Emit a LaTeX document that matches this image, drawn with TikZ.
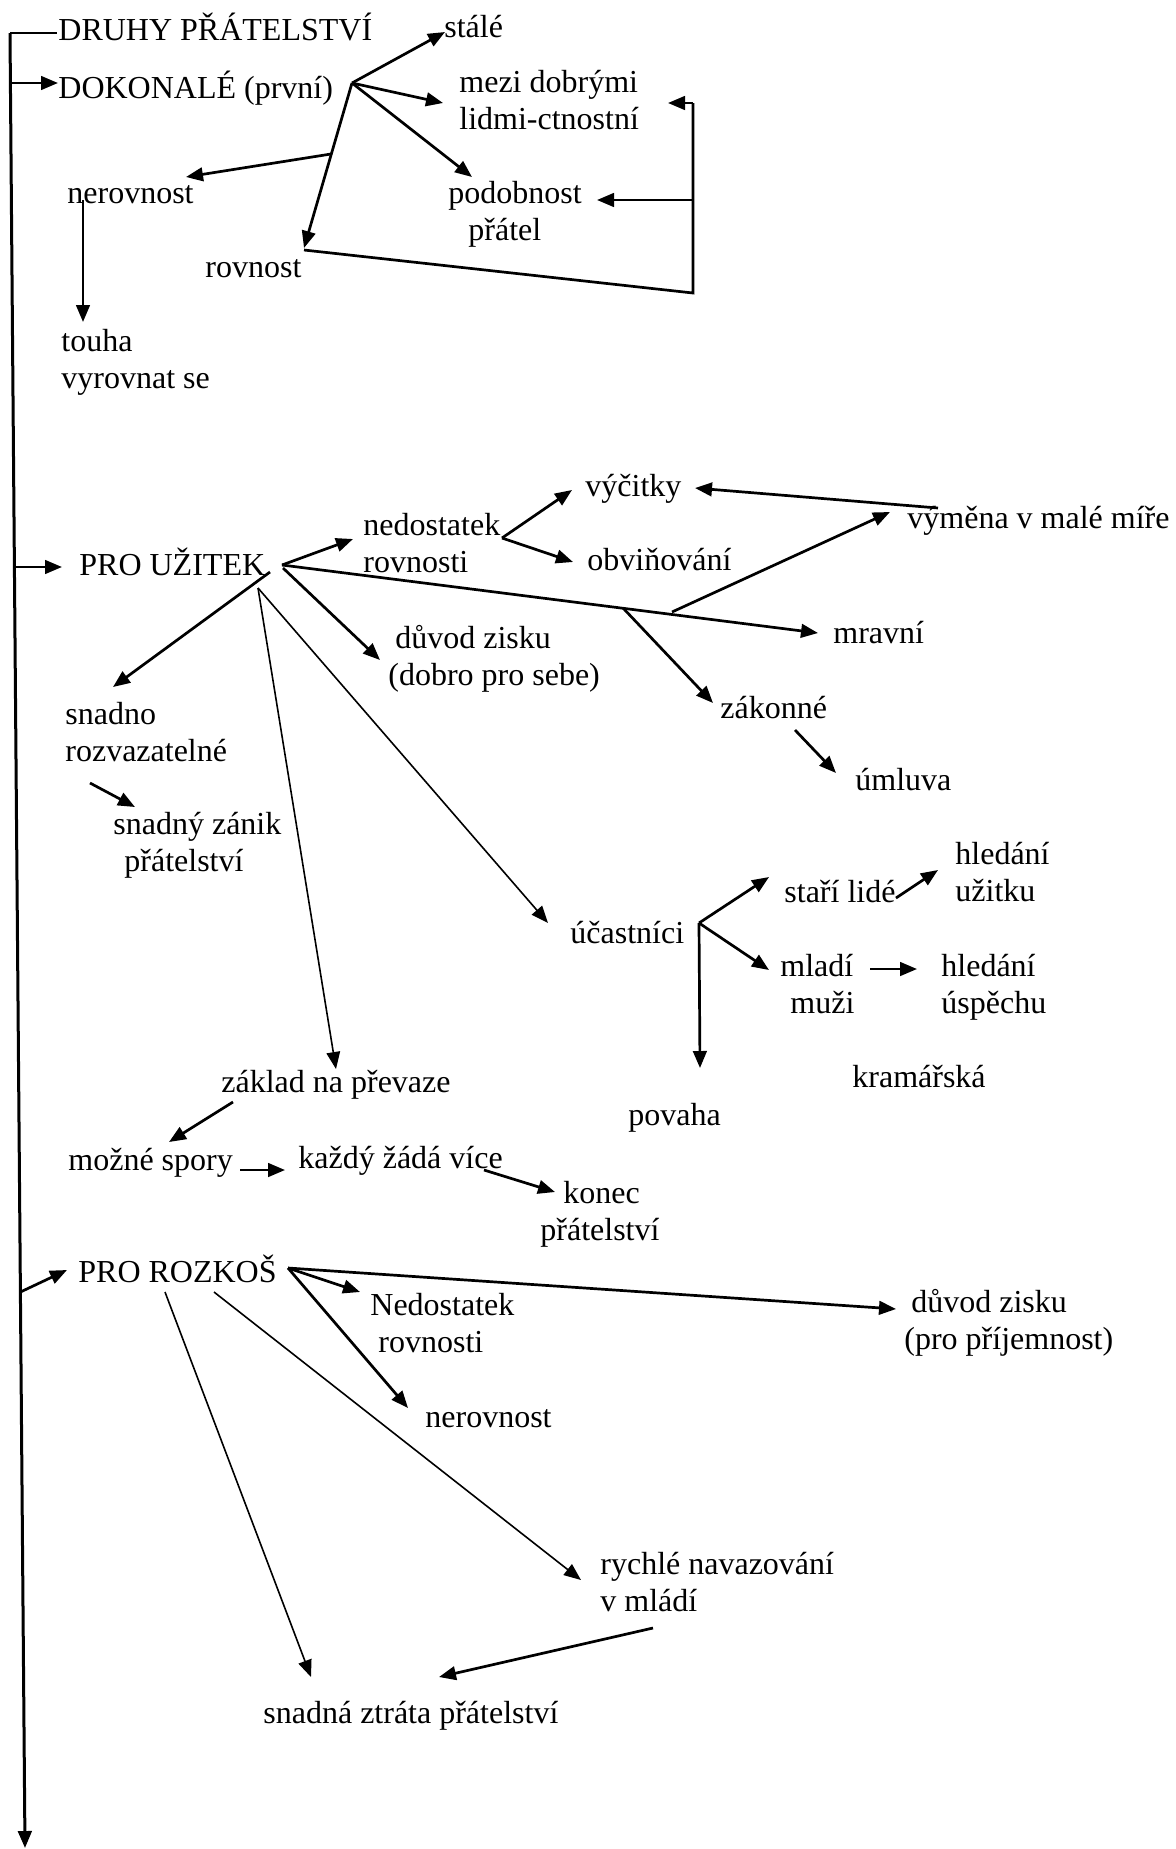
\documentclass[tikz,border=0pt]{standalone}
\usepackage{fontspec}
\setmainfont{Liberation Serif}
\usetikzlibrary{arrows.meta}
\begin{document}
\begin{tikzpicture}[x=0.5pt,y=-0.5pt,
  lbl/.style={inner sep=0pt, anchor=base west, font=\fontsize{16pt}{18.5pt}\selectfont, align=left},
  con/.style={line width=1.35pt, -{Triangle[length=8.5pt,width=6.8pt]}},
  conthin/.style={line width=0.8pt, -{Triangle[length=8.5pt,width=6.8pt]}},
  plainline/.style={line width=1.35pt},
  trunkline/.style={line width=1.5pt, -{Triangle[length=8.5pt,width=6.8pt]}}]
\useasboundingbox (0,0) rectangle (1176,1849);

% ---------- texts (y = baseline of the last line) ----------
\node[lbl] (druhy) at (58,40) {DRUHY PŘÁTELSTVÍ};
\node[lbl] (dokon) at (58,98) {DOKONALÉ (první)};
\node[lbl] (stale) at (444,37) {stálé};
\node[lbl] (mezi) at (459,129) {mezi dobrými\\lidmi-ctnostní};
\node[lbl] (podob) at (448,240) {podobnost\\\hspace*{10pt}přátel};
\node[lbl] (nerov1) at (67,203) {nerovnost};
\node[lbl] (rovn) at (205,277) {rovnost};
\node[lbl] (touha) at (61,388) {touha\\vyrovnat se};
\node[lbl] (uzitek) at (79,575) {PRO UŽITEK};
\node[lbl] (nedost1) at (363,572) {nedostatek\\rovnosti};
\node[lbl] (vycitky) at (585,496) {výčitky};
\node[lbl] (obvin) at (587,570) {obviňování};
\node[lbl] (vymena) at (907,528) {výměna v malé míře};
\node[lbl] (mravni) at (833,643) {mravní};
\node[lbl] (duvod1) at (388,685) {\hspace*{3.5pt}důvod zisku\\(dobro pro sebe)};
\node[lbl] (zakonne) at (720,718) {zákonné};
\node[lbl] (umluva) at (855,790) {úmluva};
\node[lbl] (snadno) at (65,761) {snadno\\rozvazatelné};
\node[lbl] (zanik) at (113,871) {snadný zánik\\\hspace*{5.5pt}přátelství};
\node[lbl] (stari) at (784,902) {staří lidé};
\node[lbl] (hleduz) at (955,901) {hledání\\užitku};
\node[lbl] (ucast) at (570,943) {účastníci};
\node[lbl] (mladi) at (780,1013) {mladí\\\hspace*{5pt}muži};
\node[lbl] (hledusp) at (941,1013) {hledání\\úspěchu};
\node[lbl] (kramar) at (852,1087) {kramářská};
\node[lbl] (povaha) at (628,1125) {povaha};
\node[lbl] (zaklad) at (221,1092) {základ na převaze};
\node[lbl] (spory) at (68,1170) {možné spory};
\node[lbl] (kazdy) at (298,1168) {každý žádá více};
\node[lbl] (konec) at (540,1240) {\hspace*{11.5pt}konec\\přátelství};
\node[lbl] (rozkos) at (78,1282) {PRO ROZKOŠ};
\node[lbl] (nedost2) at (370,1352) {Nedostatek\\\hspace*{4pt}rovnosti};
\node[lbl] (duvod2) at (904,1349) {\hspace*{3.5pt}důvod zisku\\(pro příjemnost)};
\node[lbl] (nerov2) at (425,1427) {nerovnost};
\node[lbl] (rychle) at (600,1611) {rychlé navazování\\v mládí};
\node[lbl] (ztrata) at (263,1723) {snadná ztráta přátelství};

% ---------- coordinates ----------
\coordinate (T0) at (10,33);
\coordinate (Tend) at (25,1848);
\coordinate (t1) at (10.4,83);
\coordinate (t2) at (14.4,567);
\coordinate (t3) at (20.4,1292);
\coordinate (F1) at (352,83);
\coordinate (B1) at (331,154);
\coordinate (F2) at (282,565);
\coordinate (B2) at (502,538);
\coordinate (B3) at (672,612);
\coordinate (B4) at (623,608);
\coordinate (S) at (258,588);
\coordinate (F3) at (699,923);
\coordinate (F4) at (288,1268);

% ---------- trunk ----------
\draw[trunkline] (T0) -- (Tend);
\draw[plainline] (T0) -- (57,33);
\draw[con] (t1) -- (58,83);
\draw[con] (t2) -- (62,567);
\draw[con] (t3) -- (67,1270);

% ---------- DOKONALE ----------
\draw[con] (F1) -- (445,32);
\draw[con] (F1) -- (443,103);
\draw[con] (F1) -- (472,177);
\draw[con] (F1) -- (304,248);
\draw[con] (B1) -- (186,177);
\draw[con] (83,200) -- (83,322);
\draw[plainline] (304,250) -- (693,293) -- (693,103);
\draw[con] (693,103) -- (668,103);
\draw[con] (693,200) -- (597,200);

% ---------- PRO UZITEK ----------
\draw[con] (F2) -- (353,539);
\draw[con] (F2) -- (818,633);
\draw[con] (283,568) -- (380,660);
\draw[con] (270,572) -- (113,687);
\draw[con] (B2) -- (572,490);
\draw[con] (B2) -- (573,562);
\draw[con] (938,508) -- (695,488);
\draw[con] (B3) -- (890,512);
\draw[con] (B4) -- (713,703);
\draw[con] (795,730) -- (836,773);
\draw[con] (90,783) -- (135,807);
\draw[conthin] (S) -- (336,1069);
\draw[conthin] (S) -- (548,923);
\draw[con] (F3) -- (769,877);
\draw[con] (F3) -- (769,970);
\draw[con] (F3) -- (700,1068);
\draw[con] (896,898) -- (938,870);
\draw[con] (870,969) -- (917,969);
\draw[con] (233,1102) -- (169,1142);
\draw[con] (240,1170) -- (285,1170);
\draw[con] (484,1170) -- (555,1192);

% ---------- PRO ROZKOS ----------
\draw[con] (F4) -- (896,1309);
\draw[con] (F4) -- (360,1292);
\draw[con] (F4) -- (408,1408);
\draw[conthin] (214,1292) -- (581,1580);
\draw[conthin] (165,1292) -- (311,1677);
\draw[con] (653,1628) -- (439,1677);
\end{tikzpicture}
\end{document}
